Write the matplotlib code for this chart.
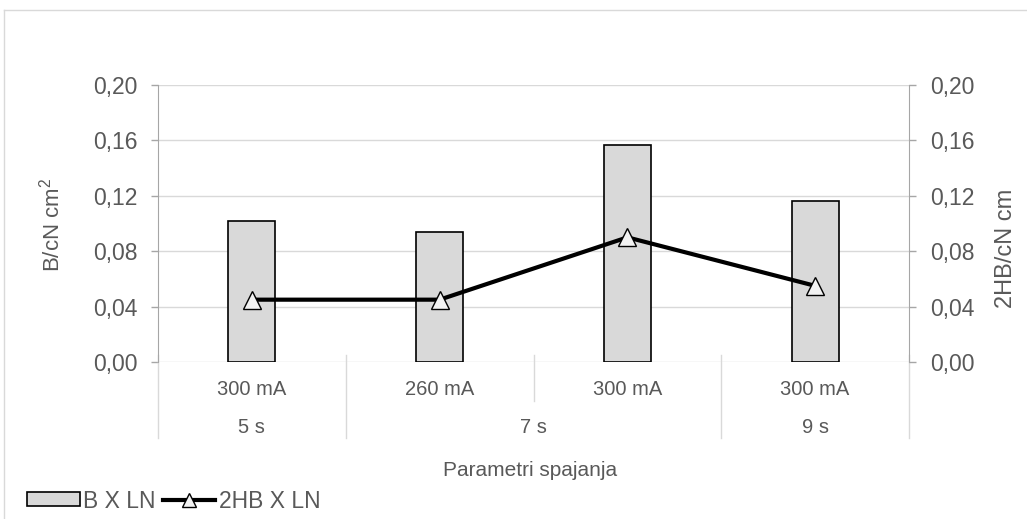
import matplotlib
matplotlib.use("Agg")
import matplotlib.pyplot as plt
from matplotlib.patches import Patch
from matplotlib.lines import Line2D
from matplotlib.transforms import blended_transform_factory

plt.rcParams['font.family'] = ['Liberation Sans', 'DejaVu Sans']
plt.rcParams['mathtext.fontset'] = 'custom'
plt.rcParams['mathtext.rm'] = 'Liberation Sans'

currents = ["300 mA", "260 mA", "300 mA", "300 mA"]
times = ["5 s", "7 s", "9 s"]
time_spans = [(0, 0), (1, 2), (3, 3)]
b_x_ln = [0.102, 0.094, 0.157, 0.116]
hb_x_ln = [0.045, 0.045, 0.090, 0.055]
yticks = [0.00, 0.04, 0.08, 0.12, 0.16, 0.20]
ytick_labels = ["0,00", "0,04", "0,08", "0,12", "0,16", "0,20"]

W, H = 1027, 519
fig = plt.figure(figsize=(W / 100, H / 100), dpi=100)
L, R, T, B = 158, 909, 85, 362
ax = fig.add_axes([L / W, 1 - B / H, (R - L) / W, (B - T) / H])
ax2 = ax.twinx()

txt = '#595959'
grid = '#d9d9d9'
axc = '#a6a6a6'

x = list(range(len(currents)))
ax.bar(x, b_x_ln, width=0.25, color='#d9d9d9', edgecolor='black', linewidth=1.2, zorder=3)
ax2.plot(x, hb_x_ln, color='black', linewidth=3, marker='^', markersize=13,
         markerfacecolor='#f2f2f2', markeredgecolor='black', markeredgewidth=1, zorder=4)

for a in (ax, ax2):
    a.set_xlim(-0.5, 3.5)
    a.set_ylim(0, 0.20)
    a.set_yticks(yticks)
    a.set_yticklabels(ytick_labels)
    a.tick_params(axis='y', colors=axc, labelcolor=txt, labelsize=16.5, length=5, width=1, pad=10)
    a.set_xticks([])
    for s in a.spines.values():
        s.set_visible(False)

ax.spines['left'].set_visible(True)
ax.spines['left'].set_color(axc)
ax2.spines['right'].set_visible(True)
ax2.spines['right'].set_color(axc)
ax.set_axisbelow(True)
ax.yaxis.grid(True, color=grid, linewidth=1)

fig.text(52 / W, 1 - 225 / H, "B/cN cm$^2$", rotation=90, ha='center', va='center',
         fontsize=16, color=txt)
fig.text(1006 / W, 1 - 248 / H, "2HB/cN cm", rotation=90, ha='center', va='center',
         fontsize=17, color=txt)

tr = blended_transform_factory(ax.transData, ax.transAxes)
# category separators
for xs in [-0.5, 0.5, 2.5, 3.5]:
    ax.plot([xs, xs], [0.025, -0.274], color=grid, lw=1, transform=tr, clip_on=False)
ax.plot([1.5, 1.5], [0.025, -0.14], color=grid, lw=1, transform=tr, clip_on=False)

for i, c in enumerate(currents):
    ax.text(i, -0.100, c, transform=tr, ha='center', va='center', fontsize=14.5, color=txt)
for t, (a0, a1) in zip(times, time_spans):
    ax.text((a0 + a1) / 2, -0.238, t, transform=tr, ha='center', va='center', fontsize=14.5, color=txt)

fig.text(530 / W, 1 - 470 / H, "Parametri spajanja", ha='center', va='center', fontsize=15, color=txt)

# outer frame (top and left visible)
fig.add_artist(Line2D([4 / W, 1], [1 - 10 / H, 1 - 10 / H], color=grid, lw=1, transform=fig.transFigure))
fig.add_artist(Line2D([4 / W, 4 / W], [0, 1 - 10 / H], color=grid, lw=1, transform=fig.transFigure))

handles = [Patch(facecolor='#d9d9d9', edgecolor='black', linewidth=1.2),
           Line2D([], [], color='black', lw=3, marker='^', markersize=10,
                  markerfacecolor='#f2f2f2', markeredgecolor='black', markeredgewidth=1)]
leg = fig.legend(handles, ["B X LN", "2HB X LN"], loc='center left',
                 bbox_to_anchor=(27 / W, 1 - 501 / H), ncol=2, frameon=False,
                 fontsize=16.5, handlelength=2.3, handleheight=0.55, handletextpad=0.15,
                 columnspacing=0.3, borderpad=0, borderaxespad=0)
for t in leg.get_texts():
    t.set_color(txt)

fig.savefig("out.png", dpi=100)
